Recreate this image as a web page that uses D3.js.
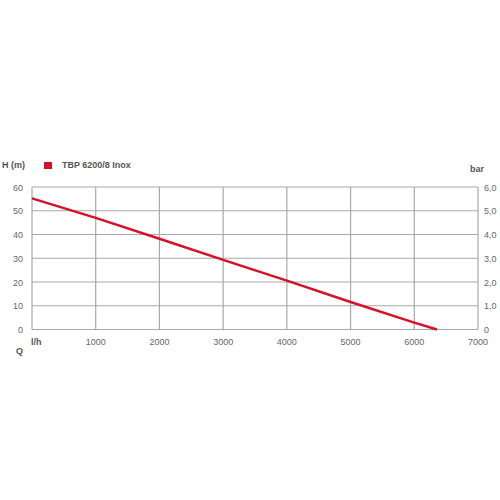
<!DOCTYPE html>
<html>
<head>
<meta charset="utf-8">
<script src="https://cdn.jsdelivr.net/npm/d3@7"></script>
<style>
body{margin:0;background:#fff;}
svg text{font-family:"Liberation Sans",Arial,sans-serif;}
</style>
</head>
<body>
<svg id="chart" width="500" height="500"></svg>
<script>
// flow (l/h) vs head (m)
var flow = [0, 1000, 2000, 3000, 4000, 5000, 6000, 6355];
var head = [55.2, 47.0, 38.2, 29.3, 20.6, 11.6, 2.9, 0];
var xTicks = [0, 1000, 2000, 3000, 4000, 5000, 6000, 7000];
var hTicks = [0, 10, 20, 30, 40, 50, 60];
var barTicks = ["0", "1,0", "2,0", "3,0", "4,0", "5,0", "6,0"];
var seriesName = "TBP 6200/8 Inox";

var svg = d3.select("#chart");
var plotLeft = 32, plotRight = 478, plotTop = 187, plotBottom = 329.5;

var x = d3.scaleLinear().domain([0, 7000]).range([plotLeft, plotRight]);
var y = d3.scaleLinear().domain([0, 60]).range([plotBottom, plotTop]);

// grid
var grid = svg.append("g").attr("stroke", "#a8a8a8").attr("stroke-width", 1.2);
grid.selectAll("line.v").data(xTicks).enter().append("line")
	.attr("x1", d => x(d)).attr("x2", d => x(d))
	.attr("y1", y(60)).attr("y2", y(0));
grid.selectAll("line.h").data(hTicks).enter().append("line")
	.attr("x1", x(0)).attr("x2", x(7000))
	.attr("y1", d => y(d)).attr("y2", d => y(d));

// left axis labels
svg.selectAll("text.hl").data(hTicks).enter().append("text")
	.attr("x", 23).attr("y", d => y(d) + 3.5)
	.attr("text-anchor", "end").attr("font-size", 9).attr("fill", "#666")
	.text(d => d);

// right axis labels (bar)
svg.selectAll("text.bl").data(barTicks).enter().append("text")
	.attr("x", 484).attr("y", (d, i) => y(hTicks[i]) + 3.5)
	.attr("font-size", 9).attr("fill", "#666")
	.text(d => d);

// bottom labels
svg.selectAll("text.xl").data(xTicks.slice(1)).enter().append("text")
	.attr("x", d => x(d)).attr("y", 345)
	.attr("text-anchor", "middle").attr("font-size", 9).attr("fill", "#666")
	.text(d => d);

svg.append("text").attr("x", 31).attr("y", 345).attr("font-size", 9)
	.attr("font-weight", "bold").attr("fill", "#555").text("l/h");
svg.append("text").attr("x", 16).attr("y", 353.5).attr("font-size", 9)
	.attr("font-weight", "bold").attr("fill", "#555").text("Q");
svg.append("text").attr("x", 2).attr("y", 168).attr("font-size", 9)
	.attr("font-weight", "bold").attr("fill", "#555").text("H (m)");
svg.append("text").attr("x", 470).attr("y", 172).attr("font-size", 9)
	.attr("font-weight", "bold").attr("fill", "#555").text("bar");

// legend
svg.append("rect").attr("x", 44).attr("y", 162).attr("width", 8).attr("height", 7)
	.attr("fill", "#d6112a");
svg.append("text").attr("x", 62).attr("y", 168).attr("font-size", 9)
	.attr("font-weight", "bold").attr("fill", "#555").text(seriesName);

// curve
var line = d3.line().x(d => x(d[0])).y(d => y(d[1]));
svg.append("path").datum(d3.zip(flow, head))
	.attr("d", line).attr("fill", "none")
	.attr("stroke", "#d6112a").attr("stroke-width", 2.5);
</script>
</body>
</html>
